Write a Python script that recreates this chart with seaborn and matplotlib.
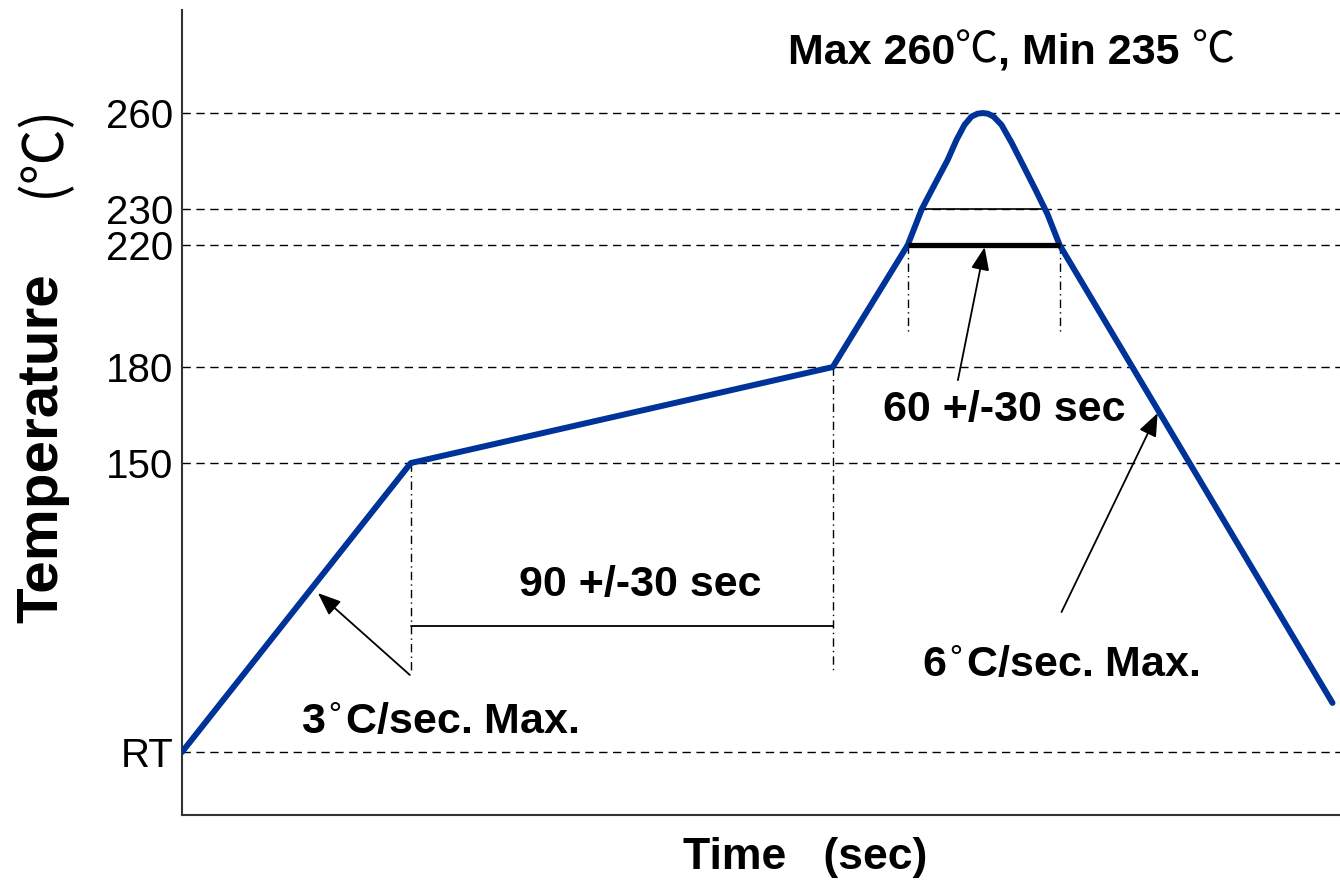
import numpy as np
import pandas as pd
import matplotlib
matplotlib.use("Agg")
import matplotlib.pyplot as plt
import seaborn as sns

# Reflow profile (time in sec, temperature in degC; RT drawn at 60)
time_s = [0, 48.8, 138.8, 154.8, 157.8, 160.8, 163.3, 165.2, 166.9, 168.4,
          169.7, 170.8, 171.9, 173.1, 174.8, 177.0, 179.5, 182.1, 184.6,
          187.2, 245.4]
temp_c = [60, 150, 180, 220, 230, 238.4, 245.3, 251.6, 256.3, 258.9,
          259.8, 260, 259.8, 258.9, 256.3, 250.6, 243.4, 235.9, 228.6,
          220, 75.3]

tick_values = [60, 150, 180, 220, 230, 260]
tick_labels = ["RT", "150", "180", "220", "230", "260"]

preheat_start, preheat_end = 48.8, 138.8
reflow_start, reflow_end = 154.8, 187.2
line_230 = (157.8, 184.1)

profile = pd.DataFrame({"time": time_s, "temp": temp_c})

# schematic (not to scale) temperature axis, piecewise linear between ticks
scale_temps = [0, 60, 150, 180, 220, 230, 260, 400]
scale_pos = [-944.7, -752, -463, -367, -245, -209, -113, 335]


def fwd(t):
    return np.interp(t, scale_temps, scale_pos)


def inv(p):
    return np.interp(p, scale_pos, scale_temps)


sns.set_style("white")
plt.rcParams["font.family"] = ["Liberation Sans", "Noto Sans CJK SC", "DejaVu Sans"]
plt.rcParams["text.color"] = "black"
plt.rcParams["ytick.color"] = "black"

cjk = ["Noto Sans CJK SC", "DejaVu Sans"]

fig = plt.figure(figsize=(13.4, 8.8), dpi=100)
ax = fig.add_axes([182 / 1340, 65 / 880, 1 - 182 / 1340, 805 / 880])
ax.set_yscale("function", functions=(fwd, inv))

# dashed reference lines at each tick
for v in tick_values:
    ax.axhline(v, color="black", lw=1, ls=(0, (6, 4)), zorder=1)

# profile curve
sns.lineplot(data=profile, x="time", y="temp", sort=False, ax=ax,
             color="#003399", lw=4.3, zorder=3)
for ln in ax.get_lines()[-1:]:
    ln.set_solid_joinstyle("round")
    ln.set_solid_capstyle("round")

# dash-dot markers
dd = dict(color="black", lw=1, ls=(0, (6, 3, 1, 3)), zorder=2)
ax.plot([preheat_start, preheat_start], [150, 84.9], **dd)
ax.plot([preheat_end, preheat_end], [180, 84.9], **dd)
ax.plot([reflow_start, reflow_start], [220, 190.5], **dd)
ax.plot([reflow_end, reflow_end], [220, 190.5], **dd)

# preheat span line
ax.plot([preheat_start, preheat_end], [99.2, 99.2], color="black", lw=1.3, zorder=2)
# 230 line inside the peak
ax.plot(list(line_230), [230, 230], color="black", lw=1.2, zorder=2)
# thick line at 220
ax.plot([reflow_start, reflow_end], [220, 220], color="black", lw=3.8, zorder=4,
        solid_capstyle="butt")

arrow = dict(arrowstyle="-|>,head_length=0.5,head_width=0.2", color="black",
             lw=1.3, mutation_scale=28, shrinkA=0, shrinkB=0)
ax.annotate("", xy=(29.0, 109.5), xytext=(48.6, 84.0), arrowprops=arrow)
ax.annotate("", xy=(171.2, 219.3), xytext=(165.5, 175.9), arrowprops=arrow)
ax.annotate("", xy=(208.1, 165.6), xytext=(187.6, 103.6), arrowprops=arrow)

bold = dict(fontsize=31, fontweight="bold", ha="center", va="center")
ax.text(97.7, 112.0, "90 +/-30 sec", **bold)
ax.text(55.0, 69.3, "3$^{\\circ}$C/sec. Max.", **bold)
ax.text(175.3, 166.6, "60 +/-30 sec", **bold)
ax.text(187.4, 87.1, "6$^{\\circ}$C/sec. Max.", **bold)

# title: bold numbers with thin CJK degree signs
t1 = ax.text(129.2, 275.4, "Max 260", fontsize=31, fontweight="bold",
             ha="left", va="baseline")
t2 = ax.annotate("℃", xy=(1, 0), xycoords=t1, fontsize=31, family=cjk,
                 ha="left", va="bottom")
t3 = ax.annotate(", Min 235 ", xy=(1, 0), xycoords=t2, fontsize=31,
                 fontweight="bold", ha="left", va="bottom")
ax.annotate("℃", xy=(1, 0), xycoords=t3, fontsize=31, family=cjk,
            ha="left", va="bottom")

ax.set_xlim(0, 247)
ax.set_ylim(40.4, 292.2)
ax.set_xticks([])
ax.set_yticks(tick_values)
ax.set_yticklabels(tick_labels, fontsize=29)
ax.minorticks_off()
ax.tick_params(axis="y", length=0, pad=6)
ax.set_xlabel("")
ax.set_ylabel("")
sns.despine(ax=ax, top=True, right=True)
for s in ["left", "bottom"]:
    ax.spines[s].set_color("#333333")
    ax.spines[s].set_linewidth(1.5)

fig.text(805 / 1340, 1 - 857 / 880, "Time   (sec)", fontsize=32, fontweight="bold",
         ha="center", va="center")
fig.text(42 / 1340, 1 - 448 / 880, "Temperature", fontsize=42, fontweight="bold",
         ha="center", va="center", rotation=90)
fig.text(43 / 1340, 1 - 150 / 880, "(℃)", fontsize=40, family=cjk,
         ha="center", va="center", rotation=90)

fig.savefig("out.png", dpi=100)
